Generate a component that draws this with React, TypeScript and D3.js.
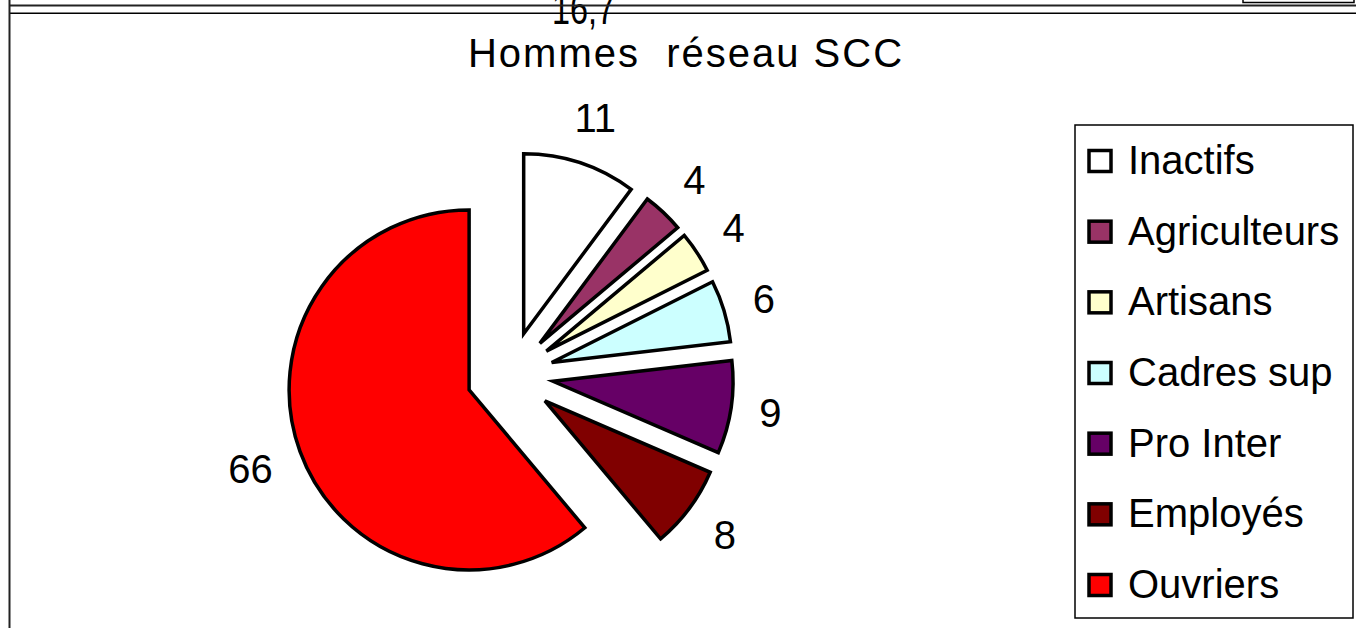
import { useEffect, useRef } from "react";
import * as d3 from "d3";

// values
const categories = ["Inactifs", "Agriculteurs", "Artisans", "Cadres sup", "Pro Inter", "Employés", "Ouvriers"];
const values = [11, 4, 4, 6, 9, 8, 66];
const colors = ["#ffffff", "#993366", "#ffffcc", "#ccffff", "#660066", "#800000", "#ff0000"];
const title = "Hommes  réseau SCC";
// leftover label of the chart above, cut off by the page edge
const strayLabel = "16,7";

const W = 1356, H = 628;

const PieChart = () => {
  const ref = useRef<SVGSVGElement | null>(null);

  const draw = () => {
    const svg = d3.select(ref.current);
    svg.selectAll("*").remove();

    const font = "'Liberation Sans', Arial, sans-serif";
    const cx = 510, cy = 375, radius = 180, explode = 43.5, labelBase = 250;

    svg.append("rect").attr("width", W).attr("height", H).attr("fill", "#fff");

    // piece of the previous chart still visible at the top
    svg.append("text")
      .attr("x", 552).attr("y", 24)
      .attr("font-family", font).attr("font-size", 44)
      .attr("textLength", 63).attr("lengthAdjust", "spacingAndGlyphs")
      .text(strayLabel);

    svg.append("path")
      .attr("d", "M1243,0 V2.5 H1354 V0")
      .attr("fill", "none").attr("stroke", "#000").attr("stroke-width", 1.5);
    svg.append("line").attr("x1", 9).attr("x2", W).attr("y1", 5.5).attr("y2", 5.5)
      .attr("stroke", "#222").attr("stroke-width", 2);
    svg.append("line").attr("x1", 9).attr("x2", W).attr("y1", 13.3).attr("y2", 13.3)
      .attr("stroke", "#000").attr("stroke-width", 1.5);
    svg.append("line").attr("x1", 9.5).attr("x2", 9.5).attr("y1", 0).attr("y2", H)
      .attr("stroke", "#222").attr("stroke-width", 2);

    svg.append("text")
      .attr("x", 686).attr("y", 67)
      .attr("text-anchor", "middle")
      .attr("font-family", font).attr("font-size", 40)
      .attr("letter-spacing", 2)
      .style("white-space", "pre")
      .text(title);

    const data = categories.map((c, i) => ({ name: c, value: values[i], color: colors[i] }));
    const pie = d3.pie<any>().sort(null).value(d => d.value);
    const arc = d3.arc<any>().innerRadius(0).outerRadius(radius);
    const arcs = pie(data);
    const mid = (d: any) => (d.startAngle + d.endAngle) / 2;

    const g = svg.append("g").attr("transform", `translate(${cx},${cy})`);
    g.selectAll("path.slice")
      .data(arcs)
      .enter().append("path")
      .attr("class", "slice")
      .attr("d", arc)
      .attr("transform", d => `translate(${Math.sin(mid(d)) * explode},${-Math.cos(mid(d)) * explode})`)
      .attr("fill", d => d.data.color)
      .attr("stroke", "#000")
      .attr("stroke-width", 3.5)
      .attr("stroke-linejoin", "miter");

    // labels sit outside, pushed out by half their box along the slice direction
    const labels = g.selectAll("text.lbl")
      .data(arcs)
      .enter().append("text")
      .attr("class", "lbl")
      .attr("text-anchor", "middle")
      .attr("font-family", font).attr("font-size", 40)
      .text(d => d.data.value);
    labels.each(function (d) {
      const a = mid(d);
      const w = (this as SVGTextElement).getComputedTextLength();
      const r = labelBase + Math.abs(Math.sin(a)) * w / 2 + Math.abs(Math.cos(a)) * 15;
      d3.select(this)
        .attr("x", Math.sin(a) * r)
        .attr("y", -Math.cos(a) * r + 14);
    });

    // legend
    const lg = svg.append("g");
    lg.append("rect")
      .attr("x", 1075).attr("y", 125).attr("width", 278).attr("height", 493)
      .attr("fill", "#fff").attr("stroke", "#000").attr("stroke-width", 1.5);
    const rowY = d3.scalePoint<string>().domain(categories).range([161, 585]);
    const items = lg.selectAll("g.item").data(data).enter().append("g").attr("class", "item")
      .attr("transform", d => `translate(0,${rowY(d.name)})`);
    items.append("rect")
      .attr("x", 1089).attr("y", -10.5).attr("width", 22).attr("height", 21)
      .attr("fill", d => d.color).attr("stroke", "#000").attr("stroke-width", 3.5);
    items.append("text")
      .attr("x", 1128).attr("y", 13)
      .attr("font-family", font).attr("font-size", 40)
      .text(d => d.name);
  };

  useEffect(() => {
    draw();
  }, []);

  return <svg ref={ref} width={W} height={H} style={{ position: "absolute", left: 0, top: 0 }} />;
};

export default function App() {
  return <PieChart />;
}
